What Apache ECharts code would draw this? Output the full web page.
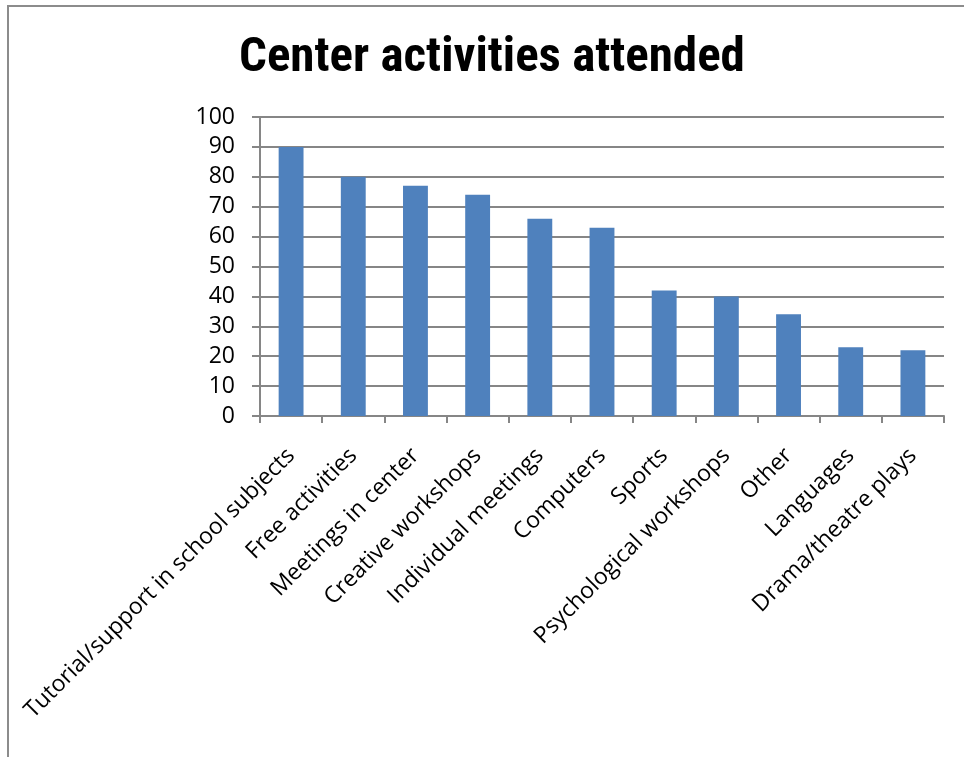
<!DOCTYPE html>
<html>
<head>
<meta charset="utf-8">
<script src="https://cdn.jsdelivr.net/npm/echarts@6/dist/echarts.min.js"></script>
<style>
  html, body { margin: 0; padding: 0; background: #fff; }
  #chart { width: 964px; height: 757px; }
</style>
</head>
<body>
<div id="chart"></div>
<script>
// Activities and share of participants attending each
const categories = [
  'Tutorial/support in school subjects',
  'Free activities',
  'Meetings in center',
  'Creative workshops',
  'Individual meetings',
  'Computers',
  'Sports',
  'Psychological workshops',
  'Other',
  'Languages',
  'Drama/theatre plays'
];
const attended = [90, 80, 77, 74, 66, 63, 42, 40, 34, 23, 22];
const chartTitle = 'Center activities attended';

const chart = echarts.init(document.getElementById('chart'), null, { renderer: 'canvas' });

const labelFont = '"Open Sans", Lato, "Noto Sans", sans-serif';

chart.setOption({
  animation: false,
  backgroundColor: '#ffffff',
  title: {
    text: chartTitle,
    left: 234,
    top: 29,
    textStyle: {
      fontFamily: '"Liberation Sans Narrow", "Roboto Condensed", Roboto, sans-serif',
      fontWeight: 'bold',
      fontSize: 49,
      color: '#000'
    }
  },
  graphic: [{
    type: 'polyline',
    shape: { points: [[8, 760], [8, 6], [970, 6]] },
    style: { stroke: '#8c8c8c', lineWidth: 2, fill: null },
    silent: true
  }],
  grid: { left: 260, right: 20, top: 117, bottom: 341, containLabel: false },
  xAxis: {
    type: 'category',
    data: categories,
    boundaryGap: true,
    axisLine: { show: true, lineStyle: { color: '#868686', width: 2 } },
    axisTick: { show: true, length: 7, lineStyle: { color: '#868686', width: 2 } },
    axisLabel: {
      interval: 0,
      rotate: 45,
      margin: 36,
      fontFamily: labelFont,
      fontSize: 23,
      color: '#000'
    }
  },
  yAxis: {
    type: 'value',
    min: 0,
    max: 100,
    interval: 10,
    axisLine: { show: true, lineStyle: { color: '#868686', width: 2 } },
    axisTick: { show: true, length: 8, inside: false, lineStyle: { color: '#868686', width: 2 } },
    axisLabel: {
      margin: 25,
      fontFamily: labelFont,
      fontSize: 23,
      color: '#000'
    },
    splitLine: { show: true, lineStyle: { color: '#868686', width: 2 } }
  },
  series: [{
    type: 'bar',
    data: attended,
    barWidth: '40%',
    itemStyle: { color: '#4F81BD' }
  }]
});
</script>
</body>
</html>
